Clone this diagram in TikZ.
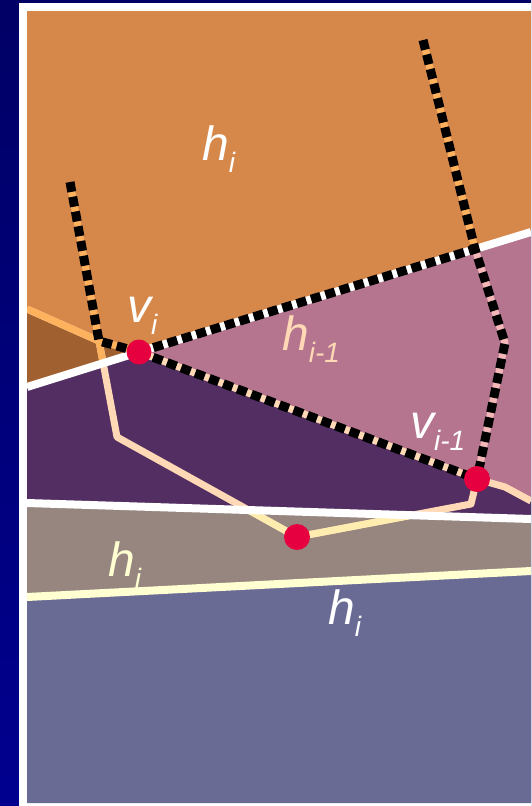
\documentclass[tikz,border=0pt]{standalone}
\usepackage{fontspec}
\setmainfont{Liberation Sans}
\usepackage{xcolor}

\definecolor{navytop}{HTML}{000066}
\definecolor{navybot}{HTML}{00008F}
\definecolor{hiorange}{HTML}{D6874A}
\definecolor{hibrown}{HTML}{A0602F}
\definecolor{himauve}{HTML}{B5758F}
\definecolor{hipurple}{HTML}{522E62}
\definecolor{higray}{HTML}{978680}
\definecolor{hislate}{HTML}{696B95}
\definecolor{lineorange}{HTML}{FFB25E}
\definecolor{linepeach}{HTML}{FFD9B5}
\definecolor{linecream}{HTML}{FFEDB0}
\definecolor{linepink}{HTML}{F5B8B8}
\definecolor{lineyellow}{HTML}{FFFFD2}
\definecolor{vertred}{HTML}{E6003F}

\newcommand{\sublab}[2]{#1\raisebox{-12pt}{\fontsize{28}{28}\selectfont #2}}

\begin{document}
\begin{tikzpicture}[x=1pt,y=-1pt,line join=round,
  wall/.style={white,line width=8pt},
  trail/.style={line width=7pt},
  dots/.style={black,line width=9pt,dash pattern=on 10pt off 5pt},
  lab/.style={anchor=base west,inner sep=0pt,font=\fontsize{48}{48}\selectfont\itshape}]
\useasboundingbox (0,0) rectangle (531,806);
\shade[top color=navytop,bottom color=navybot] (0,0) rectangle (531,806);
\fill[white] (19,3) rectangle (531,806);

\coordinate (vi) at (139,352);
\coordinate (vj) at (477,479);
\coordinate (vk) at (297,537);
\coordinate (kl) at (99,341);
\coordinate (ltop) at (70,182);
\coordinate (rtop) at (423,40);
\coordinate (rt) at (475,249);
\coordinate (rk) at (505,343);
\coordinate (wl) at (27,387);
\coordinate (wr) at (531,232);
\coordinate (ol) at (27,309);
\coordinate (tl) at (117,437);
\coordinate (tr) at (471,504);
\coordinate (tb) at (505,487);
\coordinate (te) at (531,501);
\coordinate (bl) at (27,503);
\coordinate (br) at (531,519);
\coordinate (yl) at (27,597);
\coordinate (yr) at (531,571);

\begin{scope}
\clip (27,11) rectangle (531,803);
\fill[hiorange] (27,11) rectangle (531,803);
\fill[hibrown] (ol) -- (kl) -- (vi) -- (wl) -- cycle;
\fill[himauve] (vi) -- (wr) -- (te) -- (tb) -- (vj) -- cycle;
\fill[hipurple] (wl) -- (vi) -- (vj) -- (tb) -- (te) -- (br) -- (bl) -- cycle;
\fill[higray] (bl) -- (br) -- (yr) -- (yl) -- cycle;
\fill[hislate] (yl) -- (yr) -- (531,803) -- (27,803) -- cycle;

\draw[trail,linepeach] (ol) -- (kl) -- (tl) -- (vk) -- (tr) -- (vj) -- (tb) -- (te);
\begin{scope}
\clip (27,11) -- (531,11) -- (wr) -- (vi) -- (wl) -- cycle;
\draw[trail,lineorange] (ol) -- (kl) -- (tl);
\end{scope}
\begin{scope}
\clip (bl) -- (br) -- (yr) -- (yl) -- cycle;
\draw[trail,linecream] (tl) -- (vk) -- (tr);
\end{scope}
\draw[trail,lineorange] (ltop) -- (kl) -- (vi);
\draw[trail,lineorange] (rtop) -- (rt);
\draw[trail,linepink] (rt) -- (rk) -- (vj);
\draw[trail,linepeach] (vi) -- (vj);

\draw[wall] (wl) -- (vi) -- (wr);
\draw[wall] (bl) -- (br);
\draw[wall,lineyellow] (yl) -- (yr);
\end{scope}

\draw[dots] (ltop) -- (kl) -- (vi);
\draw[dots] (vi) -- (rt);
\draw[dots] (rtop) -- (rt) -- (rk) -- (vj);
\draw[dots] (vi) -- (vj);

\fill[vertred] (vi) circle (12.5pt);
\fill[vertred] (vj) circle (13pt);
\fill[vertred] (vk) circle (13pt);

\node[lab,white] (hitop) at (202,160) {\sublab{h}{i}};
\node[lab,white] (vilab) at (127,322) {\sublab{v}{i}};
\node[lab,linepeach] (hjlab) at (282,350) {\sublab{h}{i-1}};
\node[lab,white] (vjlab) at (410,438) {\sublab{v}{i-1}};
\node[lab,lineyellow] (himid) at (108,576) {\sublab{h}{i}};
\node[lab,white] (hilow) at (328,624) {\sublab{h}{i}};
\end{tikzpicture}
\end{document}
